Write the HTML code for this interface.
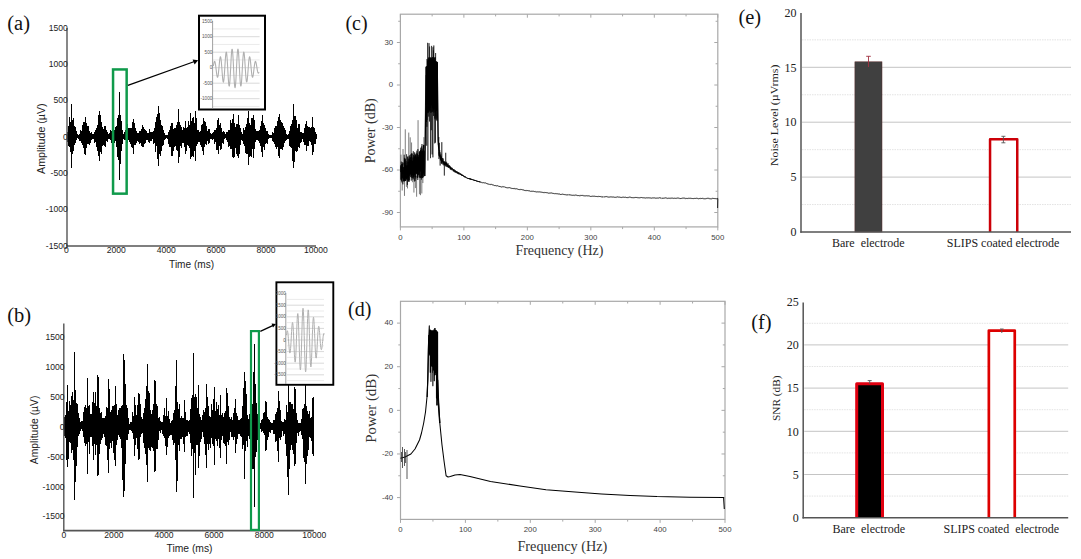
<!DOCTYPE html>
<html><head><meta charset="utf-8"><title>Figure</title>
<style>html,body{margin:0;padding:0;background:#fff;width:1081px;height:559px;overflow:hidden}svg{display:block}</style>
</head><body>
<svg width="1081" height="559" viewBox="0 0 1081 559"><rect width="1081" height="559" fill="#fff"/><path d="M67.5 131.82V141.6M68 126.12V145.73M68.5 126.21V145.73M69 124.9V147.28M69.5 117.33V147.09M70 123.46V152M70.5 121.73V151.45M71 122.42V162.14M71.5 104.08V167.75M72 120.34V153.21M72.5 119.82V153.76M73 118.25V148.52M73.5 121.09V150.5M74 125.57V144.57M74.5 129.03V145.26M75 128.41V141.84M75.5 127.1V143.34M76 130.65V140.03M76.5 132.19V139.43M77 134.32V137.97M77.5 134.73V138.23M78 134.85V137.86M78.5 134.82V138.65M79 134.52V138.99M79.5 133.5V140.68M80 132.91V140.62M80.5 129.89V139.99M81 131.67V141.11M81.5 131.12V143.07M82 129.31V141.87M82.5 125.03V144.94M83 129.09V144.13M83.5 122.29V147.61M84 122.1V144.75M84.5 127.14V154.2M85 116.9V155.31M85.5 127.44V149.02M86 127.07V145.69M86.5 122.99V147.65M87 125.73V143.9M87.5 128.05V143.31M88 126.93V142.3M88.5 126.16V143.95M89 130.63V145.31M89.5 131.83V140.45M90 132.57V143.19M90.5 133.53V141.2M91 131.99V139.55M91.5 133.03V138.06M92 134.56V137.57M92.5 134.1V138.73M93 135.06V138.16M93.5 134.4V138.65M94 131.71V141.27M94.5 132.9V143.09M95 131.33V142.13M95.5 130.07V142.49M96 129.69V144.84M96.5 128.38V146.54M97 125.23V151.35M97.5 124.78V148.71M98 123.59V155.81M98.5 115.3V155.26M99 124.28V159.88M99.5 111.05V160.99M100 119.41V151.52M100.5 115.07V151.09M101 122.45V153.56M101.5 127.14V152.12M102 127.42V145.39M102.5 130V146.4M103 130.2V144.83M103.5 129.15V145.16M104 125.84V143.04M104.5 130.81V146.13M105 130.64V144.55M105.5 125.72V146.76M106 129.78V141.37M106.5 129.75V140.02M107 132.31V142.38M107.5 133.57V139.74M108 133.98V138.47M108.5 134.59V139.11M109 133.61V138.37M109.5 132.84V139.27M110 130.41V139.93M110.5 130.35V140.17M111 131.4V143.3M111.5 131.8V143.01M112 131.48V146.03M112.5 125.4V147.07M113 124.08V148.36M113.5 125.4V143.97M114 130.1V143.08M114.5 130.66V141.15M115 132.85V140.57M115.5 127.2V141.3M116 129.7V143.18M116.5 125.68V147.37M117 125.53V157.09M117.5 118.18V150.76M118 121.45V153.33M118.5 115.12V160.1M119 91.73V179.73M119.5 117.96V169.37M120 115.06V164.45M120.5 117.89V153.12M121 125.86V149.27M121.5 121.42V151.43M122 129.98V143.5M122.5 132.25V140.88M123 134.88V138.6M123.5 134.31V137.91M124 132.36V138.36M124.5 132.36V140.28M125 130.09V140.47M125.5 131.93V139.87M126 130.74V139.98M126.5 128.64V141.3M127 124.19V143.4M127.5 130.98V142.38M128 128.01V139.75M128.5 131.85V140.12M129 128.19V139.81M129.5 131.08V142.22M130 132.18V140.24M130.5 128.17V143.73M131 127.5V144.63M131.5 128.6V147.15M132 123V148.04M132.5 121.91V143.88M133 119.82V152.49M133.5 118.52V153.74M134 127.3V144.74M134.5 123.15V143.94M135 127.76V141.66M135.5 127.76V144.87M136 131.78V141.78M136.5 130.65V143.44M137 133.21V141.12M137.5 133.49V140.25M138 133.17V139.37M138.5 132.93V142.24M139 130.91V140.36M139.5 131.96V143.52M140 131.4V139.93M140.5 130.89V142.5M141 129.85V141.89M141.5 128.89V145.93M142 125.21V147.25M142.5 125.06V147.4M143 126.82V146.98M143.5 127.42V141.64M144 130.1V142.72M144.5 129.16V144.45M145 129.64V143.08M145.5 133.32V140.18M146 131.86V140.43M146.5 130.68V140.47M147 133.24V138.94M147.5 133.83V140.06M148 132.89V141.42M148.5 132.51V142.33M149 132.21V141.08M149.5 129.09V143.49M150 132.35V141.48M150.5 132.05V141.18M151 132.27V141.29M151.5 133.53V138.59M152 132.41V139.34M152.5 133.83V139.47M153 130.9V140.64M153.5 131.6V144.07M154 130.34V143.38M154.5 127.98V142.74M155 130.11V149.32M155.5 122.21V152.37M156 123.55V145.03M156.5 117.48V146.02M157 115.28V159.25M157.5 114.32V152.85M158 116.61V161.27M158.5 106.24V165.66M159 117V151.21M159.5 113.24V154.06M160 120.02V150.58M160.5 126.35V155.51M161 125.79V147.27M161.5 124.59V150.76M162 126.95V146.17M162.5 125.77V143.17M163 130.03V144.76M163.5 131.43V140.85M164 134V139.73M164.5 133.24V138.13M165 135.35V138.55M165.5 134.89V138M166 134.72V137.59M166.5 135.46V138.24M167 135.34V138.84M167.5 134.86V138.89M168 132.26V139.53M168.5 132.59V143.78M169 133.02V143.73M169.5 129.51V146.74M170 127.56V147.16M170.5 126.06V146.25M171 130.74V148.74M171.5 122.54V156.35M172 122.56V156.49M172.5 129.21V149.27M173 128.64V144.41M173.5 130.32V151.03M174 129.66V143.89M174.5 127.59V146.73M175 129.35V146.29M175.5 127.85V146.04M176 125.43V149.76M176.5 125.75V147.09M177 122.26V149.99M177.5 122.25V151.12M178 108.58V163.38M178.5 121.77V148.23M179 121.68V157.47M179.5 125.91V153.86M180 124.52V145.74M180.5 128.83V144.98M181 130.4V147.52M181.5 127.23V142.3M182 129.91V142.85M182.5 129.59V143.2M183 131.75V143.24M183.5 126.55V141.98M184 131.22V143.17M184.5 128.24V146.5M185 120.59V154.31M185.5 121.26V153.6M186 127.91V150.29M186.5 130.07V150.56M187 127.03V145.03M187.5 129.1V143.8M188 121.32V146.44M188.5 122.17V146.24M189 125.43V145.21M189.5 127.41V148.12M190 121.39V150.34M190.5 113.07V159.03M191 124.73V157.45M191.5 121.02V157.16M192 117.82V155.97M192.5 121.5V155.78M193 117.17V157.07M193.5 116.82V150.14M194 124.65V150.84M194.5 122.91V151.34M195 110.65V161.38M195.5 115.16V149.5M196 117.76V146.18M196.5 127.46V146M197 129.66V144.04M197.5 129.8V142.12M198 131.21V142.45M198.5 130.22V139.87M199 132.38V141M199.5 132.9V141.58M200 131.07V144.6M200.5 131.41V142.05M201 125.44V147.39M201.5 124.92V143.23M202 123.57V147.18M202.5 126.77V151.47M203 127.79V146.92M203.5 117.52V154.72M204 127.78V146.67M204.5 121.08V146.69M205 122.3V144.04M205.5 129.5V142.69M206 125.7V144.62M206.5 129.34V143.84M207 130.59V140.71M207.5 132.06V141.49M208 130.44V140.53M208.5 128.56V144M209 129.31V143.28M209.5 131.31V140.32M210 134.17V139.33M210.5 132.94V139.24M211 134.09V137.92M211.5 134.8V138.81M212 134.92V138.32M212.5 133.48V140.22M213 133.59V139.04M213.5 132.46V139.37M214 129.99V140.79M214.5 132.46V144.15M215 131.48V142.26M215.5 129.61V142.48M216 129.4V147.94M216.5 128.44V150.09M217 125.56V149.77M217.5 120.35V143.76M218 119.57V149.1M218.5 118V154.25M219 125.49V146.38M219.5 128.63V143.95M220 122.52V146.2M220.5 127.14V150.17M221 130.61V148.58M221.5 128.39V143.25M222 131.74V143.23M222.5 131.85V141.97M223 131.61V143.68M223.5 130.82V139.51M224 132.04V139.02M224.5 133.72V138.64M225 134.37V138.33M225.5 133.84V138.27M226 132.02V138.96M226.5 133.66V139.86M227 132.91V141.14M227.5 132.42V142.23M228 130.1V142.46M228.5 130.98V147.1M229 129.61V142.53M229.5 129.6V145.66M230 122.41V148.97M230.5 120.09V145.35M231 125.9V146.63M231.5 122.85V149.32M232 119.04V156.02M232.5 122.6V156.84M233 113.71V158.41M233.5 116.43V147.81M234 122.83V156.98M234.5 124.03V146.46M235 127.82V146.77M235.5 127.2V148.05M236 125.85V149.82M236.5 124.45V153.99M237 124.45V151.29M237.5 124.6V156.04M238 114.53V157.61M238.5 115.4V156.77M239 124.62V154.07M239.5 129.3V143.86M240 128.65V144.28M240.5 127.86V145.47M241 132.21V140.37M241.5 133.62V139.28M242 133.94V138.72M242.5 133.86V140.96M243 131.66V141.88M243.5 128.24V144.28M244 131.39V143.36M244.5 130.33V146.31M245 128.84V153.03M245.5 126.88V146.43M246 124.56V146.02M246.5 123.86V153.64M247 118.15V152.08M247.5 121.66V153.91M248 111.34V165.1M248.5 121.86V156.16M249 124.8V148.4M249.5 123.08V157.42M250 124.53V155.91M250.5 125.3V148.08M251 123.71V156.52M251.5 117.71V147.93M252 124.64V149.39M252.5 118.2V149.22M253 119.41V154.55M253.5 115.4V157.59M254 119.99V144.7M254.5 122.34V149.2M255 129.25V141.5M255.5 132.42V142.38M256 131.68V140.34M256.5 131.25V139.21M257 132.03V140.42M257.5 130.8V140.04M258 131.4V141.3M258.5 130.71V141.13M259 131.26V140.86M259.5 130.39V143.41M260 127.76V146.27M260.5 126.4V146.08M261 121.04V152.01M261.5 126.33V149.44M262 124.13V149.16M262.5 115.08V157.08M263 122.57V146.71M263.5 124.17V145.43M264 127.04V146.14M264.5 125.26V150.39M265 127.8V142.73M265.5 128.88V144.05M266 131.34V143.03M266.5 131.54V140.68M267 131.18V143.88M267.5 133.33V141.1M268 133.66V139.21M268.5 134.58V138.21M269 135.45V137.79M269.5 134.76V137.91M270 134.98V138.24M270.5 134.98V137.22M271 135.48V137.48M271.5 134.87V138.12M272 133.55V138.01M272.5 131.9V140.83M273 133.36V142.2M273.5 133.36V140.54M274 132.39V144.43M274.5 127.98V142.55M275 128.46V143.28M275.5 126.1V147.37M276 128.37V145.65M276.5 125.76V148.94M277 124.92V146.9M277.5 120.75V144.57M278 116.77V155.59M278.5 123.96V147.71M279 113.84V158.28M279.5 113.94V158.18M280 126.08V148.4M280.5 119.81V149.27M281 122.83V149.17M281.5 121.61V145.06M282 126.42V146.61M282.5 123.27V149.5M283 126.43V146.3M283.5 128.85V147.09M284 129.75V143.47M284.5 127.54V143.18M285 129.55V140.95M285.5 132.65V141.21M286 133.6V139.67M286.5 134.34V139.15M287 135.14V138.97M287.5 135.11V138.75M288 135V138.02M288.5 134.34V138.61M289 132.53V139.99M289.5 131.37V146.48M290 125.8V142.48M290.5 128.18V147.27M291 124.78V148.1M291.5 123.9V147.1M292 125.34V160.34M292.5 120.07V161.1M293 107.27V164.65M293.5 104.24V167.59M294 116.05V162.16M294.5 124.42V158.11M295 115.74V150.56M295.5 125.67V150.17M296 119.68V148.7M296.5 127.38V152.49M297 129.09V150.67M297.5 128.14V144.19M298 124.35V144.07M298.5 130.54V147.24M299 123.97V148.46M299.5 125.3V147.16M300 131.99V143.02M300.5 132.49V141.11M301 132.25V141.62M301.5 133.43V139.6M302 133.1V138.77M302.5 133.87V138.7M303 133.75V141.11M303.5 132.78V142.3M304 128.04V142.49M304.5 131.96V144.83M305 130.79V142.36M305.5 124.33V144.62M306 122.43V149.95M306.5 121.08V151.26M307 125.78V145.22M307.5 128.75V145.86M308 127.05V145.86M308.5 131.72V142.2M309 129.35V140.54M309.5 127.44V141.09M310 128.45V141.58M310.5 128.66V141.86M311 130.09V142.55M311.5 127.47V144.77M312 128.62V146.43M312.5 117.32V154.91M313 126.68V152.43M313.5 129.48V144M314 129.64V143.74M314.5 128.35V143.18M315 132.23V143.81M315.5 133.85V139.62M316 134.08V138.57" fill="none" stroke="#000" stroke-width="1" shape-rendering="crispEdges"/><line x1="67" y1="28" x2="67" y2="246.6" stroke="#555" stroke-width="1.4"/><line x1="66.3" y1="246" x2="316" y2="246" stroke="#555" stroke-width="1.6"/><text x="67.8" y="30.55" font-size="8.6" font-family='"Liberation Sans", sans-serif' text-anchor="end" fill="#222">1500</text><text x="67.8" y="66.9" font-size="8.6" font-family='"Liberation Sans", sans-serif' text-anchor="end" fill="#222">1000</text><text x="67.8" y="103.25" font-size="8.6" font-family='"Liberation Sans", sans-serif' text-anchor="end" fill="#222">500</text><text x="67.8" y="139.6" font-size="8.6" font-family='"Liberation Sans", sans-serif' text-anchor="end" fill="#222">0</text><text x="67.8" y="175.95" font-size="8.6" font-family='"Liberation Sans", sans-serif' text-anchor="end" fill="#222">-500</text><text x="67.8" y="212.3" font-size="8.6" font-family='"Liberation Sans", sans-serif' text-anchor="end" fill="#222">-1000</text><text x="67.8" y="248.65" font-size="8.6" font-family='"Liberation Sans", sans-serif' text-anchor="end" fill="#222">-1500</text><text x="66.4" y="253.1" font-size="8.6" font-family='"Liberation Sans", sans-serif' text-anchor="middle" fill="#222">0</text><text x="116.3" y="253.1" font-size="8.6" font-family='"Liberation Sans", sans-serif' text-anchor="middle" fill="#222">2000</text><text x="166.2" y="253.1" font-size="8.6" font-family='"Liberation Sans", sans-serif' text-anchor="middle" fill="#222">4000</text><text x="216.1" y="253.1" font-size="8.6" font-family='"Liberation Sans", sans-serif' text-anchor="middle" fill="#222">6000</text><text x="266" y="253.1" font-size="8.6" font-family='"Liberation Sans", sans-serif' text-anchor="middle" fill="#222">8000</text><text x="315.9" y="253.1" font-size="8.6" font-family='"Liberation Sans", sans-serif' text-anchor="middle" fill="#222">10000</text><text x="191.6" y="268" font-size="11" font-family='"Liberation Sans", sans-serif' text-anchor="middle" fill="#222" textLength="45" lengthAdjust="spacingAndGlyphs">Time (ms)</text><text x="45" y="138.7" font-size="11" font-family='"Liberation Sans", sans-serif' text-anchor="middle" fill="#222" transform="rotate(-90 45 138.7)" textLength="70.5" lengthAdjust="spacingAndGlyphs">Amplitude (µV)</text><rect x="113.05" y="69.45" width="13.6" height="124.2" fill="none" stroke="#0f9a4b" stroke-width="2.5"/><line x1="127.9" y1="85.3" x2="194.5" y2="61.5" stroke="#000" stroke-width="1.3"/><path d="M198.2 60.2 L192.6 59.4 L194.6 64.6 Z" fill="#000"/><rect x="199" y="15.7" width="66" height="93.8" fill="#fff" stroke="#000" stroke-width="2"/><line x1="213" y1="106.45" x2="259.6" y2="106.45" stroke="#e6e6e6" stroke-width="0.8"/><line x1="213" y1="98.7" x2="259.6" y2="98.7" stroke="#cfcfcf" stroke-width="0.8"/><line x1="213" y1="90.95" x2="259.6" y2="90.95" stroke="#e6e6e6" stroke-width="0.8"/><line x1="213" y1="83.2" x2="259.6" y2="83.2" stroke="#cfcfcf" stroke-width="0.8"/><line x1="213" y1="75.45" x2="259.6" y2="75.45" stroke="#e6e6e6" stroke-width="0.8"/><line x1="213" y1="67.7" x2="259.6" y2="67.7" stroke="#cfcfcf" stroke-width="0.8"/><line x1="213" y1="59.95" x2="259.6" y2="59.95" stroke="#e6e6e6" stroke-width="0.8"/><line x1="213" y1="52.2" x2="259.6" y2="52.2" stroke="#cfcfcf" stroke-width="0.8"/><line x1="213" y1="44.45" x2="259.6" y2="44.45" stroke="#e6e6e6" stroke-width="0.8"/><line x1="213" y1="36.7" x2="259.6" y2="36.7" stroke="#cfcfcf" stroke-width="0.8"/><line x1="213" y1="28.95" x2="259.6" y2="28.95" stroke="#e6e6e6" stroke-width="0.8"/><line x1="212.6" y1="21" x2="212.6" y2="109" stroke="#888" stroke-width="0.8"/><text x="212.4" y="22.7" font-size="4.7" font-family='"Liberation Sans", sans-serif' text-anchor="end" fill="#555">1500</text><text x="212.4" y="38.2" font-size="4.7" font-family='"Liberation Sans", sans-serif' text-anchor="end" fill="#555">1000</text><text x="212.4" y="53.9" font-size="4.7" font-family='"Liberation Sans", sans-serif' text-anchor="end" fill="#555">500</text><text x="212.4" y="69.4" font-size="4.7" font-family='"Liberation Sans", sans-serif' text-anchor="end" fill="#555">0</text><text x="212.4" y="84.9" font-size="4.7" font-family='"Liberation Sans", sans-serif' text-anchor="end" fill="#555">-500</text><text x="212.4" y="100.4" font-size="4.7" font-family='"Liberation Sans", sans-serif' text-anchor="end" fill="#555">-1000</text><path d="M213.4 66 L213.6 64.78 L213.8 63.66 L214 62.71 L214.2 61.97 L214.4 61.51 L214.6 61.34 L214.8 61.48 L215 61.96 L215.2 62.74 L215.4 63.82 L215.6 65.15 L215.8 66.67 L216 68.33 L216.2 70.04 L216.4 71.73 L216.6 73.32 L216.8 74.73 L217 75.88 L217.2 76.72 L217.4 77.18 L217.6 77.23 L217.8 76.86 L218 76.07 L218.2 74.88 L218.4 73.34 L218.6 71.5 L218.8 69.44 L219 67.26 L219.2 65.06 L219.4 62.93 L219.6 60.98 L219.8 59.3 L220 58 L220.2 57.13 L220.4 56.76 L220.6 56.91 L220.8 57.6 L221 58.8 L221.2 60.47 L221.4 62.56 L221.6 64.97 L221.8 67.59 L222 70.31 L222.2 73.01 L222.4 75.55 L222.6 77.81 L222.8 79.68 L223 81.06 L223.2 81.87 L223.4 82.06 L223.6 81.61 L223.8 80.53 L224 78.84 L224.2 76.62 L224.4 73.96 L224.6 70.98 L224.8 67.8 L225 64.57 L225.2 61.45 L225.4 58.58 L225.6 56.1 L225.8 54.14 L226 52.8 L226.2 52.15 L226.4 52.23 L226.6 53.06 L226.8 54.6 L227 56.8 L227.2 59.57 L227.4 62.78 L227.6 66.29 L227.8 69.94 L228 73.57 L228.2 76.99 L228.4 80.06 L228.6 82.62 L228.8 84.54 L229 85.73 L229.2 86.12 L229.4 85.68 L229.6 84.44 L229.8 82.42 L230 79.73 L230.2 76.48 L230.4 72.81 L230.6 68.9 L230.8 64.92 L231 61.05 L231.2 57.49 L231.4 54.39 L231.6 51.91 L231.8 50.17 L232 49.24 L232.2 49.19 L232.4 50.01 L232.6 51.68 L232.8 54.11 L233 57.21 L233.2 60.82 L233.4 64.79 L233.6 68.93 L233.8 73.04 L234 76.95 L234.2 80.45 L234.4 83.4 L234.6 85.66 L234.8 87.11 L235 87.69 L235.2 87.38 L235.4 86.18 L235.6 84.16 L235.8 81.4 L236 78.05 L236.2 74.24 L236.4 70.17 L236.6 66.02 L236.8 61.99 L237 58.25 L237.2 54.98 L237.4 52.34 L237.6 50.44 L237.8 49.36 L238 49.15 L238.2 49.82 L238.4 51.32 L238.6 53.59 L238.8 56.52 L239 59.95 L239.2 63.74 L239.4 67.7 L239.6 71.65 L239.8 75.4 L240 78.79 L240.2 81.66 L240.4 83.88 L240.6 85.36 L240.8 86.04 L241 85.9 L241.2 84.94 L241.4 83.24 L241.6 80.86 L241.8 77.94 L242 74.61 L242.2 71.03 L242.4 67.38 L242.6 63.82 L242.8 60.51 L243 57.6 L243.2 55.23 L243.4 53.48 L243.6 52.44 L243.8 52.14 L244 52.57 L244.2 53.71 L244.4 55.49 L244.6 57.82 L244.8 60.58 L245 63.63 L245.2 66.83 L245.4 70.03 L245.6 73.08 L245.8 75.84 L246 78.2 L246.2 80.04 L246.4 81.31 L246.6 81.95 L246.8 81.95 L247 81.32 L247.2 80.11 L247.4 78.38 L247.6 76.23 L247.8 73.77 L248 71.12 L248.2 68.4 L248.4 65.75 L248.6 63.27 L248.8 61.09 L249 59.29 L249.2 57.95 L249.4 57.11 L249.6 56.8 L249.8 57.02 L250 57.74 L250.2 58.91 L250.4 60.48 L250.6 62.35 L250.8 64.42 L251 66.61 L251.2 68.8 L251.4 70.89 L251.6 72.79 L251.8 74.42 L252 75.71 L252.2 76.62 L252.4 77.12 L252.6 77.19 L252.8 76.85 L253 76.13 L253.2 75.07 L253.4 73.74 L253.6 72.2 L253.8 70.54 L254 68.84 L254.2 67.16 L254.4 65.6 L254.6 64.22 L254.8 63.07 L255 62.2 L255.2 61.63 L255.4 61.39 L255.6 61.46 L255.8 61.84 L256 62.5 L256.2 63.38 L256.4 64.45 L256.6 65.64 L256.8 66.9 L257 68.17 L257.2 69.38 L257.4 70.49 L257.6 71.44 L257.8 72.2 L258 72.75 L258.2 73.07 L258.4 73.15 L258.6 73 L258.8 72.64 L259 72.09" fill="none" stroke="#b0b0b0" stroke-width="1.1" stroke-linejoin="round"/><path d="M64.3 420.32V436.35M64.8 416.77V435.14M65.3 415.18V435.6M65.8 415.91V437.52M66.3 402.34V439.31M66.8 405.55V459.61M67.3 385.63V466.54M67.8 384.81V467.34M68.3 411.08V458.53M68.8 412.48V440.84M69.3 401V440.41M69.8 406.52V441.92M70.3 413.17V440.23M70.8 404.61V443.25M71.3 405.61V444.95M71.8 396.39V453.3M72.3 401.57V450.45M72.8 391.6V448.86M73.3 403.26V454.23M73.8 400.25V459.73M74.3 354.52V496.71M74.8 351.64V499.51M75.3 389.88V481.89M75.8 389.89V459.06M76.3 402.65V465.62M76.8 405.63V453.02M77.3 404.61V447.27M77.8 404.18V439.18M78.3 412.67V435.63M78.8 419.57V433.74M79.3 417.79V431.72M79.8 422.48V434.27M80.3 423.82V429.9M80.8 422.46V431.21M81.3 424.79V428.53M81.8 420.76V429.27M82.3 423.79V429.61M82.8 421.08V430.9M83.3 421.09V432.08M83.8 411.68V437.09M84.3 415.16V439.14M84.8 406.97V443.35M85.3 405.22V439.99M85.8 413.57V446.3M86.3 411.81V442.08M86.8 407.64V443.86M87.3 378.29V473.65M87.8 381.58V470.46M88.3 408.86V442.46M88.8 405.63V441.3M89.3 412.91V440.67M89.8 404.65V453.82M90.3 413.79V436.97M90.8 416.34V436.57M91.3 417.01V436.21M91.8 413.64V436.71M92.3 416.34V440.41M92.8 402.12V446.2M93.3 393.56V458.85M93.8 392.43V459.94M94.3 402.89V444.24M94.8 411.52V441.01M95.3 391.98V455.42M95.8 397.97V452.46M96.3 406.41V444.15M96.8 410.02V444.54M97.3 396.8V470.01M97.8 375.46V476.4M98.3 376.66V475.24M98.8 385.64V446.56M99.3 411.34V441.87M99.8 407.97V454.04M100.3 412.69V443.86M100.8 417.32V441.22M101.3 412.41V440.37M101.8 420.51V437.89M102.3 417.54V438.4M102.8 421.74V436.54M103.3 422.42V430.94M103.8 418.29V434.01M104.3 418.29V437.18M104.8 420.5V434.2M105.3 420.28V442.08M105.8 415.81V445.41M106.3 406.59V445.55M106.8 414.83V438.84M107.3 408.06V440.63M107.8 411.22V460.31M108.3 405.27V451.28M108.8 378.55V473.4M109.3 389.04V448.52M109.8 406.42V442.1M110.3 412.37V440.68M110.8 413.24V443.15M111.3 409.85V440.28M111.8 410.77V448.13M112.3 411.4V438.43M112.8 406.27V441.34M113.3 405.66V452.8M113.8 408.61V442.68M114.3 405.09V443M114.8 408.45V460.12M115.3 386.25V465.94M115.8 389.02V463.25M116.3 412.59V444.98M116.8 403.57V438.49M117.3 415.22V436.2M117.8 418.5V439.55M118.3 410.03V434.56M118.8 415.22V434.19M119.3 408.32V434.71M119.8 416.89V437.38M120.3 407.86V436.46M120.8 412.64V438.67M121.3 412.86V448M121.8 406.26V444.83M122.3 406.86V453.32M122.8 404.96V479.8M123.3 365.3V452.45M123.8 353.82V497.4M124.3 360.23V491.18M124.8 401.85V450.29M125.3 383.66V464.42M125.8 410.25V462.74M126.3 404.65V440.22M126.8 409.91V439.13M127.3 408.27V438.81M127.8 420.16V439.94M128.3 418.01V431.89M128.8 422.46V433.71M129.3 424.42V429.68M129.8 424.75V428.67M130.3 424.55V428.97M130.8 421.62V429.78M131.3 422.91V430.84M131.8 422.32V430.85M132.3 419.14V432.42M132.8 412.21V433.11M133.3 417.31V436.7M133.8 415.89V438.76M134.3 399.32V453.26M134.8 396.58V455.92M135.3 404.95V444.98M135.8 413.85V438.98M136.3 416.11V437.2M136.8 414.97V438.01M137.3 404.86V449.47M137.8 413.89V439.25M138.3 411.35V439.38M138.8 392.81V459.57M139.3 393.58V458.83M139.8 398.51V442.56M140.3 404.28V436.97M140.8 418.69V435.9M141.3 417.48V434.05M141.8 420.03V433.67M142.3 419.42V432.75M142.8 419.71V433.1M143.3 416.83V438.96M143.8 412.54V443.19M144.3 416.13V448.22M144.8 407.9V442.08M145.3 400.82V452.14M145.8 399.34V454.4M146.3 402.65V448.01M146.8 385.9V464.84M147.3 365.66V480.3M147.8 363.54V482.2M148.3 390.8V447.63M148.8 407.38V446.26M149.3 393.12V447.92M149.8 403.48V449.58M150.3 412.58V451.18M150.8 409.58V443.33M151.3 414.09V447.24M151.8 414.64V438.96M152.3 413.81V447.66M152.8 409.94V441.55M153.3 404.82V450.97M153.8 403.86V441.73M154.3 409.38V455.15M154.8 379.97V472.03M155.3 380.66V471.36M155.8 410.89V443.49M156.3 403.76V449.15M156.8 411.11V441.47M157.3 416.36V448.68M157.8 406.38V445.84M158.3 418.39V439.73M158.8 419.29V433.17M159.3 416.68V431.19M159.8 423.04V431.46M160.3 423.46V432.88M160.8 421.38V430.82M161.3 421.87V429.53M161.8 424.35V429.69M162.3 423.19V429.98M162.8 422.46V434.41M163.3 418.92V435.51M163.8 414.52V435.73M164.3 419.2V434.64M164.8 407.56V437.6M165.3 416.18V436.09M165.8 416.83V446.04M166.3 398.46V454.09M166.8 397.96V454.57M167.3 416.4V439.3M167.8 417.07V446.5M168.3 411.8V438.38M168.8 411.16V435.88M169.3 421.03V436.39M169.8 418.62V433.69M170.3 423.01V434.99M170.8 422.76V430.23M171.3 420.85V434.89M171.8 420.63V430.96M172.3 420.73V431.95M172.8 420.2V440.42M173.3 417.99V444.99M173.8 413.27V437.85M174.3 413.65V441.18M174.8 410.18V443.38M175.3 385.88V460.33M175.8 400.2V456.3M176.3 361.6V489.84M176.8 359.79V491.6M177.3 402.21V481.35M177.8 401.52V455.89M178.3 409.15V444.72M178.8 410.86V443.21M179.3 403.63V450.58M179.8 418.19V440.8M180.3 417.54V437.1M180.8 420.49V438.77M181.3 416.33V438.96M181.8 422.36V431.08M182.3 419.31V437.33M182.8 418.41V436.4M183.3 418.01V433.1M183.8 418.41V444.36M184.3 416.65V436.06M184.8 400.39V452.22M185.3 411.58V436.02M185.8 416.92V437.16M186.3 420.1V435.84M186.8 421.39V432.74M187.3 419.78V436.31M187.8 423.13V430.29M188.3 420.83V430.58M188.8 422.56V431.81M189.3 422.09V433.53M189.8 420.37V432.77M190.3 417.79V438.71M190.8 408.72V443.3M191.3 413.95V456.22M191.8 397.79V442.33M192.3 394.8V446.08M192.8 398.85V449.07M193.3 397.3V465.55M193.8 353.09V498.1M194.3 397.02V453.22M194.8 402.98V450.13M195.3 402.99V470.84M195.8 393.82V474.57M196.3 406.93V445.08M196.8 397V443.74M197.3 407.85V445.48M197.8 410.06V443M198.3 384.6V467.54M198.8 388.81V463.45M199.3 414.08V456.38M199.8 416.07V444.98M200.3 416.89V434.88M200.8 419.04V441.65M201.3 420.27V438.93M201.8 420.71V436.41M202.3 421.19V432.21M202.8 414.98V432.26M203.3 412.86V433.82M203.8 409.91V437.2M204.3 412.41V436.05M204.8 416.62V444.49M205.3 408.38V454.8M205.8 412.75V443.39M206.3 386.93V465.27M206.8 383.94V468.17M207.3 411.18V444.33M207.8 397.23V440.11M208.3 406.21V449.74M208.8 411.11V438.53M209.3 415.91V444.18M209.8 417.66V442.14M210.3 418.11V435.27M210.8 417.08V447.91M211.3 404.18V436.43M211.8 417.59V438.32M212.3 414.23V437.42M212.8 410.38V444.19M213.3 401.41V446.39M213.8 399.28V441.57M214.3 386.86V465.35M214.8 402.63V441.1M215.3 413.9V439.08M215.8 410.88V439.13M216.3 402.25V439.5M216.8 409.53V440.61M217.3 417.51V438.13M217.8 409.09V446.27M218.3 417.61V435.2M218.8 405.22V439.31M219.3 415.12V447.64M219.8 415.23V446.42M220.3 394.94V457.51M220.8 410.72V443.16M221.3 415.29V436.87M221.8 416.93V440M222.3 417.33V435.77M222.8 412.97V435.56M223.3 417.72V442.92M223.8 417.45V435.99M224.3 413.43V441.48M224.8 415.98V443.81M225.3 413.81V439.78M225.8 411.38V446.12M226.3 388.08V464.16M226.8 388.92V463.35M227.3 392.83V442.12M227.8 407.27V438.5M228.3 405.65V438.25M228.8 416.37V445.31M229.3 419.36V433.9M229.8 417.39V440.19M230.3 419.33V432.37M230.8 421.92V431.75M231.3 416.79V431.14M231.8 418.49V437.05M232.3 422.31V436.7M232.8 419.91V432.09M233.3 419.65V440.01M233.8 413.2V433.77M234.3 418.12V436.35M234.8 407.97V436.51M235.3 400.47V452.15M235.8 399.42V453.16M236.3 415.66V436.39M236.8 412.98V444.18M237.3 417.4V438.66M237.8 415.5V432.4M238.3 419.6V434.49M238.8 421.28V433.14M239.3 419.68V432.2M239.8 421.98V433.66M240.3 421.2V436.08M240.8 418.99V433.12M241.3 419.49V433.94M241.8 418.09V437.08M242.3 416.32V442.33M242.8 406.18V448.51M243.3 412.32V445.22M243.8 388.28V443.4M244.3 378.9V459.57M244.8 372.37V479.4M245.3 381.05V450.57M245.8 389.23V443.95M246.3 393.76V441.29M246.8 405.19V439.09M247.3 415.33V447.15M247.8 415.94V445.32M248.3 419.44V435.54M248.8 420.72V432.83M249.3 413.94V435.62M249.8 420.09V438.6M250.3 417.6V437.03M250.8 408.87V438.39M251.3 403.82V437.61M251.8 405.99V442.79M252.3 408.69V468.54M252.8 403.68V463.15M253.3 401.94V468.72M253.8 372.37V456.4M254.3 343.96V506.96M254.8 345.67V505.3M255.3 383.54V456.9M255.8 403.62V450.13M256.3 403.09V452.31M256.8 410.15V443.76M257.3 413.69V439.71M257.8 416.67V437.92M258.3 416.27V437.2M258.8 418.9V433.28M259.3 418.68V430.39M259.8 424.33V430.26M260.3 422.56V429.34M260.8 424.88V429.47M261.3 423.93V430.46M261.8 420.07V431.67M262.3 419.38V430.07M262.8 421.72V431.15M263.3 418.21V431.36M263.8 413.3V432.62M264.3 417.27V435.09M264.8 411.83V434.65M265.3 417.42V435.28M265.8 401.47V451.17M266.3 402.23V450.44M266.8 418.05V443.99M267.3 417.23V439.94M267.8 419.95V433.22M268.3 421.26V432.73M268.8 418.57V436.7M269.3 422.2V432.47M269.8 420.47V431.14M270.3 422.66V433.03M270.8 422.23V428.83M271.3 424.88V429.72M271.8 423.19V428.92M272.3 424.48V428.81M272.8 423.23V430.46M273.3 420.2V430.03M273.8 421.03V433.78M274.3 419.97V432.22M274.8 421.74V433.78M275.3 414.32V432.41M275.8 419.94V441.84M276.3 418.43V434.86M276.8 411.68V440.62M277.3 407.5V437.89M277.8 412.43V450.97M278.3 390.72V461.6M278.8 413.85V453.21M279.3 400.59V438.1M279.8 417.24V436.09M280.3 410.42V439.51M280.8 415.79V434.53M281.3 421.02V436.69M281.8 421.53V432.31M282.3 422.71V430.81M282.8 422.36V431.17M283.3 421.74V435.62M283.8 422.95V432.29M284.3 419.36V432.93M284.8 420.01V434.09M285.3 420.5V444.07M285.8 419.71V437.65M286.3 405.2V440.08M286.8 413.61V456.13M287.3 411.63V447.17M287.8 411.72V476.88M288.3 410.36V466.91M288.8 381.61V494.94M289.3 401.89V452.58M289.8 402.38V469.11M290.3 411.89V450.16M290.8 401.53V444.43M291.3 415.35V443.47M291.8 403.96V445.27M292.3 404.42V440.99M292.8 412.19V450.17M293.3 408.65V441.89M293.8 413.91V454.18M294.3 402.01V441.99M294.8 386.99V466.11M295.3 388.65V463.91M295.8 414.04V442.18M296.3 415.61V437.59M296.8 413.18V443.12M297.3 420.21V433.42M297.8 420.14V431.78M298.3 422.91V435.61M298.8 423.73V433.72M299.3 424.47V431.67M299.8 422.67V429.83M300.3 423.18V429.53M300.8 423.07V430.59M301.3 418.84V435.34M301.8 418.57V435.23M302.3 417.4V436.47M302.8 408.6V439.49M303.3 409.74V441.72M303.8 407.93V457.56M304.3 404.86V462.12M304.8 403.61V451.3M305.3 384.11V481.56M305.8 382.47V483.53M306.3 408.66V463.73M306.8 406.27V445.65M307.3 412.45V449.31M307.8 410.93V456.14M308.3 413.61V446.74M308.8 416.97V450.01M309.3 417.62V435.16M309.8 410.83V437.29M310.3 417.81V436.35M310.8 417.52V438.16M311.3 416.6V436.09M311.8 417.76V440.74M312.3 409.89V436.24M312.8 398.19V454.35M313.3 396.76V455.74M313.8 415.95V438.45" fill="none" stroke="#000" stroke-width="1" shape-rendering="crispEdges"/><line x1="63.8" y1="323.6" x2="63.8" y2="531.3" stroke="#555" stroke-width="1.4"/><line x1="63.1" y1="530.6" x2="313.8" y2="530.6" stroke="#555" stroke-width="1.6"/><text x="64.5" y="340.25" font-size="8.6" font-family='"Liberation Sans", sans-serif' text-anchor="end" fill="#222">1500</text><text x="64.5" y="370.1" font-size="8.6" font-family='"Liberation Sans", sans-serif' text-anchor="end" fill="#222">1000</text><text x="64.5" y="399.95" font-size="8.6" font-family='"Liberation Sans", sans-serif' text-anchor="end" fill="#222">500</text><text x="64.5" y="429.8" font-size="8.6" font-family='"Liberation Sans", sans-serif' text-anchor="end" fill="#222">0</text><text x="64.5" y="459.65" font-size="8.6" font-family='"Liberation Sans", sans-serif' text-anchor="end" fill="#222">-500</text><text x="64.5" y="489.5" font-size="8.6" font-family='"Liberation Sans", sans-serif' text-anchor="end" fill="#222">-1000</text><text x="64.5" y="519.35" font-size="8.6" font-family='"Liberation Sans", sans-serif' text-anchor="end" fill="#222">-1500</text><text x="63.8" y="537.5" font-size="8.6" font-family='"Liberation Sans", sans-serif' text-anchor="middle" fill="#222">0</text><text x="113.9" y="537.5" font-size="8.6" font-family='"Liberation Sans", sans-serif' text-anchor="middle" fill="#222">2000</text><text x="164" y="537.5" font-size="8.6" font-family='"Liberation Sans", sans-serif' text-anchor="middle" fill="#222">4000</text><text x="214.1" y="537.5" font-size="8.6" font-family='"Liberation Sans", sans-serif' text-anchor="middle" fill="#222">6000</text><text x="264.2" y="537.5" font-size="8.6" font-family='"Liberation Sans", sans-serif' text-anchor="middle" fill="#222">8000</text><text x="314.3" y="537.5" font-size="8.6" font-family='"Liberation Sans", sans-serif' text-anchor="middle" fill="#222">10000</text><text x="189.5" y="552.1" font-size="11" font-family='"Liberation Sans", sans-serif' text-anchor="middle" fill="#222" textLength="46" lengthAdjust="spacingAndGlyphs">Time (ms)</text><text x="38.5" y="429.9" font-size="11" font-family='"Liberation Sans", sans-serif' text-anchor="middle" fill="#222" transform="rotate(-90 38.5 429.9)" textLength="68.5" lengthAdjust="spacingAndGlyphs">Amplitude (µV)</text><rect x="251" y="331.1" width="7.9" height="198.8" fill="none" stroke="#0f9a4b" stroke-width="2.2"/><line x1="260.3" y1="331.3" x2="273.2" y2="325.4" stroke="#000" stroke-width="1.3"/><path d="M276 324 L271.6 323.6 L273 327.4 Z" fill="#000"/><rect x="276.4" y="282.3" width="56.9" height="102.5" fill="#fff" stroke="#000" stroke-width="1.9"/><line x1="287" y1="380.6" x2="324" y2="380.6" stroke="#e6e6e6" stroke-width="0.8"/><line x1="287" y1="374.8" x2="324" y2="374.8" stroke="#cfcfcf" stroke-width="0.8"/><line x1="287" y1="369" x2="324" y2="369" stroke="#e6e6e6" stroke-width="0.8"/><line x1="287" y1="363.2" x2="324" y2="363.2" stroke="#cfcfcf" stroke-width="0.8"/><line x1="287" y1="357.4" x2="324" y2="357.4" stroke="#e6e6e6" stroke-width="0.8"/><line x1="287" y1="351.6" x2="324" y2="351.6" stroke="#cfcfcf" stroke-width="0.8"/><line x1="287" y1="345.8" x2="324" y2="345.8" stroke="#e6e6e6" stroke-width="0.8"/><line x1="287" y1="340" x2="324" y2="340" stroke="#cfcfcf" stroke-width="0.8"/><line x1="287" y1="334.2" x2="324" y2="334.2" stroke="#e6e6e6" stroke-width="0.8"/><line x1="287" y1="328.4" x2="324" y2="328.4" stroke="#cfcfcf" stroke-width="0.8"/><line x1="287" y1="322.6" x2="324" y2="322.6" stroke="#e6e6e6" stroke-width="0.8"/><line x1="287" y1="316.8" x2="324" y2="316.8" stroke="#cfcfcf" stroke-width="0.8"/><line x1="287" y1="311" x2="324" y2="311" stroke="#e6e6e6" stroke-width="0.8"/><line x1="287" y1="305.2" x2="324" y2="305.2" stroke="#cfcfcf" stroke-width="0.8"/><line x1="287" y1="299.4" x2="324" y2="299.4" stroke="#e6e6e6" stroke-width="0.8"/><line x1="285.8" y1="293" x2="285.8" y2="384" stroke="#888" stroke-width="0.8"/><text x="285.7" y="295.2" font-size="4.5" font-family='"Liberation Sans", sans-serif' text-anchor="end" fill="#555">2000</text><text x="285.7" y="306.8" font-size="4.5" font-family='"Liberation Sans", sans-serif' text-anchor="end" fill="#555">1500</text><text x="285.7" y="318.4" font-size="4.5" font-family='"Liberation Sans", sans-serif' text-anchor="end" fill="#555">1000</text><text x="285.7" y="330" font-size="4.5" font-family='"Liberation Sans", sans-serif' text-anchor="end" fill="#555">500</text><text x="285.7" y="341.6" font-size="4.5" font-family='"Liberation Sans", sans-serif' text-anchor="end" fill="#555">0</text><text x="285.7" y="353.2" font-size="4.5" font-family='"Liberation Sans", sans-serif' text-anchor="end" fill="#555">-500</text><text x="285.7" y="364.8" font-size="4.5" font-family='"Liberation Sans", sans-serif' text-anchor="end" fill="#555">-1000</text><text x="285.7" y="376.4" font-size="4.5" font-family='"Liberation Sans", sans-serif' text-anchor="end" fill="#555">-1500</text><path d="M286.4 335.19 L286.6 333.57 L286.8 332.24 L287 331.28 L287.2 330.79 L287.4 330.82 L287.6 331.39 L287.8 332.51 L288 334.14 L288.2 336.2 L288.4 338.61 L288.6 341.23 L288.8 343.92 L289 346.52 L289.2 348.88 L289.4 350.83 L289.6 352.25 L289.8 353.01 L290 353.05 L290.2 352.32 L290.4 350.83 L290.6 348.63 L290.8 345.82 L291 342.53 L291.2 338.95 L291.4 335.27 L291.6 331.69 L291.8 328.45 L292 325.75 L292.2 323.76 L292.4 322.65 L292.6 322.5 L292.8 323.37 L293 325.24 L293.2 328.05 L293.4 331.66 L293.6 335.9 L293.8 340.53 L294 345.3 L294.2 349.93 L294.4 354.15 L294.6 357.68 L294.8 360.31 L295 361.84 L295.2 362.15 L295.4 361.19 L295.6 358.97 L295.8 355.58 L296 351.19 L296.2 346.02 L296.4 340.36 L296.6 334.53 L296.8 328.86 L297 323.68 L297.2 319.32 L297.4 316.04 L297.6 314.07 L297.8 313.55 L298 314.54 L298.2 317.02 L298.4 320.88 L298.6 325.92 L298.8 331.87 L299 338.4 L299.2 345.15 L299.4 351.72 L299.6 357.72 L299.8 362.81 L300 366.67 L300.2 369.06 L300.4 369.81 L300.6 368.87 L300.8 366.25 L301 362.1 L301.2 356.64 L301.4 350.16 L301.6 343.03 L301.8 335.67 L302 328.48 L302.2 321.89 L302.4 316.28 L302.6 311.99 L302.8 309.28 L303 308.3 L303.2 309.12 L303.4 311.71 L303.6 315.93 L303.8 321.52 L304 328.19 L304.2 335.53 L304.4 343.14 L304.6 350.57 L304.8 357.4 L305 363.23 L305.2 367.74 L305.4 370.65 L305.6 371.81 L305.8 371.16 L306 368.75 L306.2 364.71 L306.4 359.3 L306.6 352.82 L306.8 345.66 L307 338.24 L307.2 330.97 L307.4 324.29 L307.6 318.55 L307.8 314.1 L308 311.15 L308.2 309.88 L308.4 310.32 L308.6 312.44 L308.8 316.09 L309 321.04 L309.2 326.99 L309.4 333.58 L309.6 340.43 L309.8 347.14 L310 353.32 L310.2 358.65 L310.4 362.82 L310.6 365.62 L310.8 366.91 L311 366.67 L311.2 364.92 L311.4 361.81 L311.6 357.53 L311.8 352.37 L312 346.64 L312.2 340.67 L312.4 334.82 L312.6 329.41 L312.8 324.74 L313 321.05 L313.2 318.54 L313.4 317.31 L313.6 317.39 L313.8 318.74 L314 321.24 L314.2 324.73 L314.4 328.96 L314.6 333.68 L314.8 338.59 L315 343.42 L315.2 347.89 L315.4 351.76 L315.6 354.83 L315.8 356.96 L316 358.05 L316.2 358.09 L316.4 357.11 L316.6 355.21 L316.8 352.53 L317 349.25 L317.2 345.59 L317.4 341.76 L317.6 338 L317.8 334.51 L318 331.48 L318.2 329.06 L318.4 327.36 L318.6 326.45 L318.8 326.34 L319 327 L319.2 328.36 L319.4 330.31 L319.6 332.71 L319.8 335.4 L320 338.22 L320.2 340.99 L320.4 343.57 L320.6 345.81 L320.8 347.61 L321 348.89 L321.2 349.6 L321.4 349.73 L321.6 349.31 L321.8 348.39 L322 347.06 L322.2 345.4 L322.4 343.53 L322.6 341.58 L322.8 339.65 L323 337.85 L323.2 336.28 L323.4 335.02 L323.6 334.11 L323.8 333.59 L324 333.46 L324.2 333.7 L324.4 334.29" fill="none" stroke="#b0b0b0" stroke-width="1.0" stroke-linejoin="round"/><rect x="400.4" y="14.2" width="317.4" height="212.7" fill="none" stroke="#a8a8a8" stroke-width="1.2"/><line x1="396.9" y1="212.5" x2="400.4" y2="212.5" stroke="#a8a8a8" stroke-width="1"/><line x1="714.3" y1="212.5" x2="717.8" y2="212.5" stroke="#a8a8a8" stroke-width="1"/><text x="393.2" y="214.8" font-size="7.8" font-family='"Liberation Sans", sans-serif' text-anchor="end" fill="#444">-90</text><line x1="398.2" y1="191.25" x2="400.4" y2="191.25" stroke="#a8a8a8" stroke-width="1"/><line x1="715.6" y1="191.25" x2="717.8" y2="191.25" stroke="#a8a8a8" stroke-width="1"/><line x1="396.9" y1="170" x2="400.4" y2="170" stroke="#a8a8a8" stroke-width="1"/><line x1="714.3" y1="170" x2="717.8" y2="170" stroke="#a8a8a8" stroke-width="1"/><text x="393.2" y="172.3" font-size="7.8" font-family='"Liberation Sans", sans-serif' text-anchor="end" fill="#444">-60</text><line x1="398.2" y1="148.75" x2="400.4" y2="148.75" stroke="#a8a8a8" stroke-width="1"/><line x1="715.6" y1="148.75" x2="717.8" y2="148.75" stroke="#a8a8a8" stroke-width="1"/><line x1="396.9" y1="127.5" x2="400.4" y2="127.5" stroke="#a8a8a8" stroke-width="1"/><line x1="714.3" y1="127.5" x2="717.8" y2="127.5" stroke="#a8a8a8" stroke-width="1"/><text x="393.2" y="129.8" font-size="7.8" font-family='"Liberation Sans", sans-serif' text-anchor="end" fill="#444">-30</text><line x1="398.2" y1="106.25" x2="400.4" y2="106.25" stroke="#a8a8a8" stroke-width="1"/><line x1="715.6" y1="106.25" x2="717.8" y2="106.25" stroke="#a8a8a8" stroke-width="1"/><line x1="396.9" y1="85" x2="400.4" y2="85" stroke="#a8a8a8" stroke-width="1"/><line x1="714.3" y1="85" x2="717.8" y2="85" stroke="#a8a8a8" stroke-width="1"/><text x="393.2" y="87.3" font-size="7.8" font-family='"Liberation Sans", sans-serif' text-anchor="end" fill="#444">0</text><line x1="398.2" y1="63.75" x2="400.4" y2="63.75" stroke="#a8a8a8" stroke-width="1"/><line x1="715.6" y1="63.75" x2="717.8" y2="63.75" stroke="#a8a8a8" stroke-width="1"/><line x1="396.9" y1="42.5" x2="400.4" y2="42.5" stroke="#a8a8a8" stroke-width="1"/><line x1="714.3" y1="42.5" x2="717.8" y2="42.5" stroke="#a8a8a8" stroke-width="1"/><text x="393.2" y="44.8" font-size="7.8" font-family='"Liberation Sans", sans-serif' text-anchor="end" fill="#444">30</text><line x1="398.2" y1="21.25" x2="400.4" y2="21.25" stroke="#a8a8a8" stroke-width="1"/><line x1="715.6" y1="21.25" x2="717.8" y2="21.25" stroke="#a8a8a8" stroke-width="1"/><line x1="400.4" y1="226.9" x2="400.4" y2="230.4" stroke="#a8a8a8" stroke-width="1"/><line x1="400.4" y1="14.2" x2="400.4" y2="17.7" stroke="#a8a8a8" stroke-width="1"/><text x="400.4" y="239.9" font-size="7.8" font-family='"Liberation Sans", sans-serif' text-anchor="middle" fill="#444">0</text><line x1="432.14" y1="226.9" x2="432.14" y2="229.1" stroke="#a8a8a8" stroke-width="1"/><line x1="432.14" y1="14.2" x2="432.14" y2="16.4" stroke="#a8a8a8" stroke-width="1"/><line x1="463.88" y1="226.9" x2="463.88" y2="230.4" stroke="#a8a8a8" stroke-width="1"/><line x1="463.88" y1="14.2" x2="463.88" y2="17.7" stroke="#a8a8a8" stroke-width="1"/><text x="463.88" y="239.9" font-size="7.8" font-family='"Liberation Sans", sans-serif' text-anchor="middle" fill="#444">100</text><line x1="495.62" y1="226.9" x2="495.62" y2="229.1" stroke="#a8a8a8" stroke-width="1"/><line x1="495.62" y1="14.2" x2="495.62" y2="16.4" stroke="#a8a8a8" stroke-width="1"/><line x1="527.36" y1="226.9" x2="527.36" y2="230.4" stroke="#a8a8a8" stroke-width="1"/><line x1="527.36" y1="14.2" x2="527.36" y2="17.7" stroke="#a8a8a8" stroke-width="1"/><text x="527.36" y="239.9" font-size="7.8" font-family='"Liberation Sans", sans-serif' text-anchor="middle" fill="#444">200</text><line x1="559.1" y1="226.9" x2="559.1" y2="229.1" stroke="#a8a8a8" stroke-width="1"/><line x1="559.1" y1="14.2" x2="559.1" y2="16.4" stroke="#a8a8a8" stroke-width="1"/><line x1="590.84" y1="226.9" x2="590.84" y2="230.4" stroke="#a8a8a8" stroke-width="1"/><line x1="590.84" y1="14.2" x2="590.84" y2="17.7" stroke="#a8a8a8" stroke-width="1"/><text x="590.84" y="239.9" font-size="7.8" font-family='"Liberation Sans", sans-serif' text-anchor="middle" fill="#444">300</text><line x1="622.58" y1="226.9" x2="622.58" y2="229.1" stroke="#a8a8a8" stroke-width="1"/><line x1="622.58" y1="14.2" x2="622.58" y2="16.4" stroke="#a8a8a8" stroke-width="1"/><line x1="654.32" y1="226.9" x2="654.32" y2="230.4" stroke="#a8a8a8" stroke-width="1"/><line x1="654.32" y1="14.2" x2="654.32" y2="17.7" stroke="#a8a8a8" stroke-width="1"/><text x="654.32" y="239.9" font-size="7.8" font-family='"Liberation Sans", sans-serif' text-anchor="middle" fill="#444">400</text><line x1="686.06" y1="226.9" x2="686.06" y2="229.1" stroke="#a8a8a8" stroke-width="1"/><line x1="686.06" y1="14.2" x2="686.06" y2="16.4" stroke="#a8a8a8" stroke-width="1"/><line x1="717.8" y1="226.9" x2="717.8" y2="230.4" stroke="#a8a8a8" stroke-width="1"/><line x1="717.8" y1="14.2" x2="717.8" y2="17.7" stroke="#a8a8a8" stroke-width="1"/><text x="717.8" y="239.9" font-size="7.8" font-family='"Liberation Sans", sans-serif' text-anchor="middle" fill="#444">500</text><text x="559.4" y="255.1" font-size="14" font-family='"Liberation Serif", serif' text-anchor="middle" fill="#333" textLength="88" lengthAdjust="spacingAndGlyphs">Frequency (Hz)</text><text x="375.2" y="130.8" font-size="14" font-family='"Liberation Serif", serif' text-anchor="middle" fill="#333" transform="rotate(-90 375.2 130.8)" textLength="65" lengthAdjust="spacingAndGlyphs">Power (dB)</text><text x="345.4" y="30" font-size="20" font-family='"Liberation Serif", serif' text-anchor="start" fill="#111">(c)</text><path d="M401 166.52V154.63M402.2 176V190.53M403.03 164.92V149.03M404.48 176V195.9M405.27 163.14V129.31M406.39 176V186.9M407.51 176V188.45M408.75 160.39V132.57M410.21 159.24V137.34M411.57 158.16V142.47M412.42 176V182.23M413.92 176V192.57M415.4 176V188.07M416.64 176V196.74M418.06 153.02V120.15M419.43 176V194.22M420.5 176V195.2M421.82 176V193.48M422.89 176V183.06M423.9 148.4V137.14" stroke="#444" stroke-width="0.7" fill="none"/><path d="M400.6 165.2 L400.72 172.16 L400.84 165.65 L400.96 179.56 L401.08 166.99 L401.2 180.14 L401.32 161.61 L401.44 181.21 L401.56 171.55 L401.68 176.37 L401.8 164.03 L401.92 182.45 L402.04 163.99 L402.16 177.49 L402.28 164.48 L402.4 178.18 L402.52 171.37 L402.64 174.13 L402.76 162.18 L402.88 184.36 L403 162.84 L403.12 179.09 L403.24 167.19 L403.36 173.53 L403.48 170.37 L403.6 181.26 L403.72 167.07 L403.84 181.28 L403.96 169.74 L404.08 181.23 L404.2 154.72 L404.32 180.99 L404.44 157.87 L404.56 181.3 L404.68 159.23 L404.8 180.9 L404.92 169.13 L405.04 180.32 L405.16 159.49 L405.28 174.77 L405.4 158.6 L405.52 181.03 L405.64 165.54 L405.76 181.04 L405.88 162.78 L406 177.77 L406.12 161.07 L406.24 178.96 L406.36 165.48 L406.48 174.2 L406.6 154.28 L406.72 179.49 L406.84 166.28 L406.96 179.76 L407.08 167.38 L407.2 176.66 L407.32 165.03 L407.44 184.86 L407.56 156.83 L407.68 178.17 L407.8 161.75 L407.92 174 L408.04 156.29 L408.16 180.24 L408.28 158.55 L408.4 181.39 L408.52 165.16 L408.64 176.97 L408.76 160.43 L408.88 181.68 L409 162.01 L409.12 181.61 L409.24 159.05 L409.36 179.95 L409.48 155.42 L409.6 175.8 L409.72 161.97 L409.84 175.05 L409.96 157.13 L410.08 173.63 L410.2 157.61 L410.32 174.01 L410.44 159.9 L410.56 177.13 L410.68 154.54 L410.8 172.12 L410.92 160.95 L411.04 175.25 L411.16 157.15 L411.28 180.6 L411.4 153.81 L411.52 177.71 L411.64 159.99 L411.76 176.26 L411.88 153.01 L412 175.45 L412.12 153.98 L412.24 175.54 L412.36 162.29 L412.48 177.94 L412.6 160.81 L412.72 172.69 L412.84 157.57 L412.96 179.55 L413.08 160.91 L413.2 174.49 L413.32 151.21 L413.44 178.46 L413.56 155.06 L413.68 176.52 L413.8 160.41 L413.92 176.98 L414.04 156.49 L414.16 175.53 L414.28 158.52 L414.4 181.52 L414.52 152.4 L414.64 174.7 L414.76 156.73 L414.88 172.55 L415 154.43 L415.12 181.13 L415.24 155.87 L415.36 177.04 L415.48 154.82 L415.6 172.86 L415.72 158.26 L415.84 178.45 L415.96 154.36 L416.08 174.14 L416.2 152.69 L416.32 171.09 L416.44 160.06 L416.56 173.7 L416.68 156.54 L416.8 173.74 L416.92 150.69 L417.04 169.56 L417.16 153.76 L417.28 176.61 L417.4 157.96 L417.52 177.97 L417.64 153.56 L417.76 179.93 L417.88 149.07 L418 177.45 L418.12 155.51 L418.24 174.72 L418.36 157 L418.48 169.76 L418.6 157.19 L418.72 174.58 L418.84 155.01 L418.96 174.6 L419.08 152.6 L419.2 175.88 L419.32 157.21 L419.44 170.94 L419.56 151.81 L419.68 177.2 L419.8 151.38 L419.92 177.99 L420.04 151.35 L420.16 171.6 L420.28 150.88 L420.4 177.93 L420.52 149.84 L420.64 170.13 L420.76 147.71 L420.88 171.53 L421 150.17 L421.12 177.46 L421.24 151.48 L421.36 179.6 L421.48 152.45 L421.6 176.43 L421.72 146.38 L421.84 178.02 L421.96 144.03 L422.08 175.88 L422.2 148.57 L422.32 177.99 L422.44 150.99 L422.56 175.18 L422.68 150.55 L422.8 177.73 L422.92 153.14 L423.04 177.23 L423.16 154.68 L423.28 169.95 L423.4 145.29 L423.52 173.46 L423.64 144.9 L423.76 176.68 L423.88 144.88 L424 175.35 L424.12 150.41 L424.24 173.82 L424.36 151.29 L424.48 174.79 L424.6 176 L425.2 120 L425.8 80 L426 66.81 L426.1 105.11 L426.2 66.67 L426.3 114.51 L426.4 67.33 L426.5 122 L426.6 66.49 L426.7 145.69 L426.8 66.31 L426.9 126.8 L427 58.99 L427.1 119.92 L427.2 67.46 L427.3 112.5 L427.4 66.81 L427.5 101.68 L427.6 42.84 L427.7 103.52 L427.8 61.15 L427.9 160.54 L428 59.9 L428.1 113.15 L428.2 60.57 L428.3 112.33 L428.4 58.42 L428.5 100.31 L428.6 61.79 L428.7 116.6 L428.8 57.51 L428.9 101.1 L429 43.13 L429.1 109.45 L429.2 57.13 L429.3 111.51 L429.4 58.39 L429.5 121.53 L429.6 46.51 L429.7 110.03 L429.8 61.74 L429.9 102.74 L430 58.66 L430.1 105.77 L430.2 59.9 L430.3 111.68 L430.4 57.24 L430.5 158.17 L430.6 58.08 L430.7 107.9 L430.8 58.57 L430.9 113.02 L431 58.23 L431.1 105.48 L431.2 57.42 L431.3 130.19 L431.4 59.87 L431.5 102.25 L431.6 45.88 L431.7 112.11 L431.8 60.13 L431.9 104.63 L432 58.28 L432.1 154.41 L432.2 58.88 L432.3 104.69 L432.4 60.71 L432.5 108.12 L432.6 57.05 L432.7 112.07 L432.8 57.4 L432.9 157.38 L433 47.23 L433.1 110.67 L433.2 60.51 L433.3 101.67 L433.4 50.35 L433.5 115.95 L433.6 60.59 L433.7 107.87 L433.8 45.49 L433.9 112.52 L434 57.3 L434.1 109.64 L434.2 60.48 L434.3 108.79 L434.4 57.53 L434.5 107.96 L434.6 60.18 L434.7 143.37 L434.8 58.01 L434.9 118.4 L435 61.12 L435.1 119.38 L435.2 61.89 L435.3 111.97 L435.4 57.17 L435.5 142.61 L435.6 53.02 L435.7 116.22 L435.8 61.58 L435.9 103.17 L436 62.75 L436.1 104.85 L436.2 63.39 L436.3 108.68 L436.4 61.16 L436.5 110.86 L436.6 62.4 L436.7 120.13 L436.8 61.87 L436.9 118.78 L437 61.83 L437.1 121.07 L437.2 63.38 L437.3 117.65 L437.4 64 L437.8 110 L438.4 145 L438.8 137.09 L438.95 159.05 L439.1 152.18 L439.25 156.14 L439.4 142.84 L439.55 154.96 L439.7 150.16 L439.85 155.35 L440 152.08 L440.15 165.56 L440.3 154.89 L440.45 160.26 L440.6 155.6 L440.75 158.59 L440.9 153.63 L441.05 160.61 L441.2 155.84 L441.35 162.89 L441.5 157.28 L441.65 163.8 L441.8 142.16 L441.95 163.66 L442.1 157.97 L442.25 161.92 L442.4 158.19 L442.55 161.39 L442.7 159.88 L442.85 164.56 L443 161.05 L443.15 163.12 L443.3 158.47 L443.45 164.56 L443.6 161.14 L443.75 162.87 L443.9 162.41 L444.05 165.66 L444.2 162.35 L444.35 175.57 L444.5 161.23 L444.65 165.05 L444.8 162.08 L444.95 164.65 L445.1 163.06 L445.25 164.17 L445.4 161.9 L445.55 166.37 L445.7 152.78 L445.85 165.4 L446 162.98 L446.15 164.51 L446.3 163.15 L446.45 165.78 L446.6 161.78 L446.75 167.02 L446.9 162.97 L447.05 164.95 L447.2 164.01 L447.35 167.05 L447.5 164.64 L447.65 166.85 L447.8 164.33 L447.95 165.65 L448.1 163.28 L448.25 167.82 L448.4 165.48 L448.55 167.57 L448.7 165.54 L448.85 167.21 L449 165.23 L449.15 167.25 L449.3 165.95 L449.45 167.68 L449.6 165.51 L449.75 167.61 L449.9 166.77 L450.05 168.82 L450.2 166.76 L450.35 169.45 L450.5 166.55 L450.65 169.21 L450.8 167.27 L450.95 169.61 L451.1 167.98 L451.25 168.54 L451.4 168.22 L451.55 169.74 L451.7 167.38 L451.85 169.08 L452 168.18 L452.15 170.43 L452.3 168.12 L452.45 169.39 L452.6 168.99 L452.75 169.74 L452.9 169.41 L453.05 170.37 L453.2 169.73 L453.35 171.39 L453.5 169.44 L453.65 170.98 L453.8 169.37 L453.95 171.58 L454.1 169.39 L454.25 171.25 L454.4 170.35 L454.55 171.51 L454.7 171.04 L454.85 171.72 L455 170.36 L455.15 172.68 L455.3 170.43 L455.45 172.4 L455.6 170.85 L455.75 171.74 L455.9 171.38 L456.05 172.3 L456.2 171.17 L456.35 172.17 L456.5 171.68 L456.65 172.81 L456.8 171.38 L456.95 173.32 L457.1 171.76 L457.25 172.72 L457.4 171.77 L457.55 173.7 L457.7 172.2 L457.85 173.25 L458 172.43 L458.15 173.19 L458.3 172.38 L458.45 174.22 L458.6 172.76 L458.75 174.09 L458.9 172.62 L459.05 173.73 L459.2 172.7 L459.35 174.3 L459.5 173.6 L459.65 173.95 L459.8 173.72 L459.95 174.56 L460.1 173.48 L460.25 174.5 L460.4 173.45 L460.55 174.68 L460.7 174.04 L460.85 174.64 L461 173.78 L461.15 174.81 L461.3 174.02 L461.45 175.31 L461.6 174.48 L461.75 175.48 L461.9 174.89 L462.05 175.92 L462.2 174.49 L462.35 176 L462.5 174.97 L462.65 175.62 L462.8 174.97 L462.95 175.91 L463.1 175.1 L463.25 176.03 L463.4 175.51 L463.55 176.63 L463.7 175.97 L463.85 176.58 L464 176.21 L464.15 176.37 L464.3 176.31 L464.45 177.2 L464.6 175.95 L464.75 177.13 L464.9 176.56 L465.05 177.3 L465.2 176.44 L465.35 177.27 L465.5 176.71 L465.65 177.7 L465.8 177.25 L465.95 177.47 L466.1 177.13 L466.25 177.6 L466.4 177.35 L466.55 178.03 L466.7 177.65 L466.85 178.16 L467 177.76 L467.15 178.35 L467.3 177.89 L467.45 178.56 L467.6 178.21 L467.75 178.67 L467.9 178.24 L468.05 178.93 L468.2 178.07 L468.35 178.73 L468.5 178.27 L468.65 178.9 L468.8 178.21 L468.95 179.07 L469.1 178.27 L469.25 179 L469.4 178.23 L469.55 179.28 L469.7 178.4 L469.85 179.14 L470 178.73 L470.15 179.31" fill="none" stroke="#000" stroke-width="0.55" stroke-linejoin="round"/><path d="M470.15 179.31 L470.3 178.57 L470.45 179.37 L470.6 178.87 L470.75 179.41 L470.9 178.76 L471.05 179.44 L471.2 179.3 L471.35 179.74 L471.5 178.96 L471.65 179.83 L471.8 179.21 L471.95 179.93 L472.1 179.45 L472.25 179.94 L472.4 179.66 L472.55 179.8 L472.7 179.56 L472.85 180.07 L473 179.68 L473.15 179.94 L473.3 179.63 L473.45 180.26 L473.6 179.94 L473.75 180.25 L473.9 179.96 L474.05 180.3 L474.2 180.2 L474.35 180.71 L474.5 179.88 L474.65 180.68 L474.8 180.02 L474.95 180.66 L475.1 180.14 L475.25 180.66 L475.4 180.26 L475.55 180.9 L475.7 180.29 L475.85 180.78 L476 180.43 L476.15 180.88 L476.3 180.64 L476.45 181.34 L476.6 180.97 L476.75 181.12 L476.9 180.93 L477.05 181.24 L477.2 181.12 L477.35 181.58 L477.5 180.89 L477.65 181.46 L477.8 181.18 L477.95 181.63 L478.1 181.4 L478.25 181.48 L478.4 181.13 L478.55 181.69 L478.7 181.39 L478.85 182.04 L479 181.29 L479.15 181.94 L479.3 181.7 L479.45 181.96 L479.6 181.5 L479.75 182.29 L479.9 181.89 L480.05 182.36 L480.65 182 L481.25 182.48 L481.85 182.35 L482.45 182.91 L483.05 182.31 L483.65 182.91 L484.25 182.73 L484.85 183.18 L485.45 182.91 L486.05 183.4 L486.65 183.48 L487.25 183.93 L487.85 183.68 L488.45 184.27 L489.05 183.75 L489.65 184.47 L490.25 184.29 L490.85 184.74 L491.45 184.27 L492.05 184.92 L492.65 184.86 L493.25 185.11 L493.85 185.06 L494.45 185.56 L495.05 185.37 L495.65 185.64 L496.25 185.63 L496.85 186.09 L497.45 185.71 L498.05 186.26 L498.65 186.03 L499.25 186.68 L499.85 186.25 L500.45 186.63 L501.05 186.54 L501.65 187.06 L502.25 186.59 L502.85 187.01 L503.45 186.78 L504.05 187.13 L504.65 186.84 L505.25 187.44 L505.85 187.19 L506.45 187.65 L507.05 187.54 L507.65 187.86 L508.25 187.64 L508.85 187.92 L509.45 187.63 L510.05 188.04 L510.65 188 L511.25 188.45 L511.85 188.19 L512.45 188.47 L513.05 188.26 L513.65 188.61 L514.25 188.32 L514.85 189.07 L515.45 188.81 L516.05 189.07 L516.65 188.73 L517.25 189.22 L517.85 188.85 L518.45 189.44 L519.05 189.29 L519.65 189.64 L520.25 189.31 L520.85 189.75 L521.45 189.49 L522.05 190.08 L522.65 189.72 L523.25 190.16 L523.85 189.78 L524.45 190.41 L525.05 190.08 L525.65 190.68 L526.25 190.38 L526.85 190.8 L527.45 190.56 L528.05 190.92 L528.65 190.72 L529.25 191.04 L529.85 190.71 L530.45 191.34 L531.05 190.88 L531.65 191.33 L532.25 191.15 L532.85 191.46 L533.45 191.24 L534.05 191.68 L534.65 191.55 L535.25 191.83 L535.85 191.43 L536.45 191.95 L537.05 191.5 L537.65 191.93 L538.25 191.87 L538.85 191.99 L539.45 191.87 L540.05 192.26 L540.65 192.01 L541.25 192.32 L541.85 192.01 L542.45 192.37 L543.05 192.09 L543.65 192.66 L544.25 192.33 L544.85 192.86 L545.45 192.56 L546.05 192.76 L546.65 192.66 L547.25 192.84 L547.85 192.77 L548.45 193.16 L549.05 192.82 L549.65 193.16 L550.25 192.92 L550.85 193.22 L551.45 192.96 L552.05 193.37 L552.65 193.28 L553.25 193.48 L553.85 193.24 L554.45 193.84 L555.05 193.33 L555.65 193.69 L556.25 193.58 L556.85 193.91 L557.45 193.77 L558.05 194.24 L558.65 193.95 L559.25 194.2 L559.85 193.82 L560.45 194.49 L561.05 194.15 L561.65 194.42 L562.25 194.06 L562.85 194.4 L563.45 194.36 L564.05 194.82 L564.65 194.52 L565.25 194.76 L565.85 194.58 L566.45 194.89 L567.05 194.78 L567.65 194.88 L568.25 194.56 L568.85 195.21 L569.45 194.72 L570.05 195.09 L570.65 194.95 L571.25 195.26 L571.85 195.02 L572.45 195.3 L573.05 194.84 L573.65 195.33 L574.25 195.11 L574.85 195.6 L575.45 195.08 L576.05 195.34 L576.65 195.22 L577.25 195.62 L577.85 195.4 L578.45 195.57 L579.05 195.24 L579.65 195.82 L580.25 195.34 L580.85 195.89 L581.45 195.45 L582.05 195.78 L582.65 195.38 L583.25 195.84 L583.85 195.46 L584.45 195.84 L585.05 195.68 L585.65 195.9 L586.25 195.67 L586.85 195.95 L587.45 195.86 L588.05 196.03 L588.65 195.83 L589.25 196.13 L589.85 195.9 L590.45 196.43 L591.05 195.88 L591.65 196.45 L592.25 196.11 L592.85 196.35 L593.45 196.22 L594.05 196.52 L594.65 196.18 L595.25 196.43 L595.85 196.36 L596.45 196.47 L597.05 196.34 L597.65 196.6 L598.25 196.17 L598.85 196.78 L599.45 196.47 L600.05 196.72 L600.65 196.57 L601.25 196.98 L601.85 196.56 L602.45 196.99 L603.05 196.5 L603.65 197.1 L604.25 196.8 L604.85 196.93 L605.45 196.7 L606.05 196.88 L606.65 196.56 L607.25 197 L607.85 196.63 L608.45 197.09 L609.05 196.91 L609.65 197.08 L610.25 196.87 L610.85 196.99 L611.45 196.93 L612.05 197.21 L612.65 197.01 L613.25 197.14 L613.85 196.9 L614.45 197.25 L615.05 197.03 L615.65 197.34 L616.25 197.02 L616.85 197.38 L617.45 196.9 L618.05 197.2 L618.65 197.09 L619.25 197.28 L619.85 196.95 L620.45 197.35 L621.05 197.09 L621.65 197.54 L622.25 197.18 L622.85 197.37 L623.45 197.17 L624.05 197.38 L624.65 197.3 L625.25 197.34 L625.85 197.13 L626.45 197.56 L627.05 197.09 L627.65 197.73 L628.25 197.3 L628.85 197.66 L629.45 197.11 L630.05 197.53 L630.65 197.23 L631.25 197.71 L631.85 197.16 L632.45 197.82 L633.05 197.44 L633.65 197.76 L634.25 197.52 L634.85 197.72 L635.45 197.45 L636.05 197.62 L636.65 197.48 L637.25 197.75 L637.85 197.47 L638.45 197.76 L639.05 197.62 L639.65 197.83 L640.25 197.54 L640.85 197.78 L641.45 197.5 L642.05 197.84 L642.65 197.73 L643.25 197.9 L643.85 197.65 L644.45 197.86 L645.05 197.62 L645.65 198.09 L646.25 197.66 L646.85 198.12 L647.45 197.88 L648.05 198.04 L648.65 197.79 L649.25 197.95 L649.85 197.8 L650.45 197.98 L651.05 197.8 L651.65 198.2 L652.25 197.84 L652.85 198.12 L653.45 197.93 L654.05 198.03 L654.65 197.91 L655.25 198.35 L655.85 197.84 L656.45 198.14 L657.05 197.82 L657.65 198.12 L658.25 197.9 L658.85 198.29 L659.45 197.74 L660.05 198.21 L660.65 197.89 L661.25 198.43 L661.85 197.83 L662.45 198.33 L663.05 197.9 L663.65 198.27 L664.25 197.98 L664.85 198.23 L665.45 197.85 L666.05 198.45 L666.65 198.02 L667.25 198.48 L667.85 198.15 L668.45 198.22 L669.05 198 L669.65 198.29 L670.25 198.06 L670.85 198.54 L671.45 198.15 L672.05 198.28 L672.65 198.14 L673.25 198.46 L673.85 198.15 L674.45 198.23 L675.05 198.05 L675.65 198.38 L676.25 198.17 L676.85 198.43 L677.45 198.04 L678.05 198.46 L678.65 198.06 L679.25 198.48 L679.85 198 L680.45 198.64 L681.05 198.19 L681.65 198.43 L682.25 198 L682.85 198.43 L683.45 198.08 L684.05 198.58 L684.65 198.1 L685.25 198.68 L685.85 198.06 L686.45 198.41 L687.05 198.15 L687.65 198.54 L688.25 198.18 L688.85 198.51 L689.45 198.29 L690.05 198.66 L690.65 198.22 L691.25 198.49 L691.85 198.33 L692.45 198.54 L693.05 198.37 L693.65 198.61 L694.25 198.4 L694.85 198.47 L695.45 198.43 L696.05 198.49 L696.65 198.22 L697.25 198.51 L697.85 198.32 L698.45 198.75 L699.05 198.32 L699.65 198.55 L700.25 198.2 L700.85 198.81 L701.45 198.49 L702.05 198.6 L702.65 198.34 L703.25 198.8 L703.85 198.38 L704.45 198.78 L705.05 198.44 L705.65 198.78 L706.25 198.42 L706.85 198.66 L707.45 198.28 L708.05 198.84 L708.65 198.26 L709.25 198.75 L709.85 198.41 L710.45 198.81 L711.05 198.34 L711.65 198.86 L712.25 198.29 L712.85 198.62 L713.45 198.44 L714.05 198.81 L714.65 198.5 L715.25 198.65 L715.85 198.58 L716.45 198.8 L717.05 198.27 L717.8 198.6 L717.6 208" fill="none" stroke="#111" stroke-width="0.95" stroke-linejoin="round"/><path d="M424.9 176 L425.3 140 L425.8 100 L426.3 75" fill="none" stroke="#000" stroke-width="1.2" stroke-linejoin="round"/><path d="M437.2 62 L437.6 100 L438.1 140 L439.2 155 L441.5 160" fill="none" stroke="#000" stroke-width="1.3" stroke-linejoin="round"/><rect x="400.5" y="301.3" width="324.5" height="218.1" fill="none" stroke="#a8a8a8" stroke-width="1.2"/><line x1="397" y1="497.59" x2="400.5" y2="497.59" stroke="#a8a8a8" stroke-width="1"/><line x1="721.5" y1="497.59" x2="725" y2="497.59" stroke="#a8a8a8" stroke-width="1"/><text x="393.2" y="499.89" font-size="7.8" font-family='"Liberation Sans", sans-serif' text-anchor="end" fill="#444">-40</text><line x1="398.3" y1="475.78" x2="400.5" y2="475.78" stroke="#a8a8a8" stroke-width="1"/><line x1="722.8" y1="475.78" x2="725" y2="475.78" stroke="#a8a8a8" stroke-width="1"/><line x1="397" y1="453.97" x2="400.5" y2="453.97" stroke="#a8a8a8" stroke-width="1"/><line x1="721.5" y1="453.97" x2="725" y2="453.97" stroke="#a8a8a8" stroke-width="1"/><text x="393.2" y="456.27" font-size="7.8" font-family='"Liberation Sans", sans-serif' text-anchor="end" fill="#444">-20</text><line x1="398.3" y1="432.16" x2="400.5" y2="432.16" stroke="#a8a8a8" stroke-width="1"/><line x1="722.8" y1="432.16" x2="725" y2="432.16" stroke="#a8a8a8" stroke-width="1"/><line x1="397" y1="410.35" x2="400.5" y2="410.35" stroke="#a8a8a8" stroke-width="1"/><line x1="721.5" y1="410.35" x2="725" y2="410.35" stroke="#a8a8a8" stroke-width="1"/><text x="393.2" y="412.65" font-size="7.8" font-family='"Liberation Sans", sans-serif' text-anchor="end" fill="#444">0</text><line x1="398.3" y1="388.54" x2="400.5" y2="388.54" stroke="#a8a8a8" stroke-width="1"/><line x1="722.8" y1="388.54" x2="725" y2="388.54" stroke="#a8a8a8" stroke-width="1"/><line x1="397" y1="366.73" x2="400.5" y2="366.73" stroke="#a8a8a8" stroke-width="1"/><line x1="721.5" y1="366.73" x2="725" y2="366.73" stroke="#a8a8a8" stroke-width="1"/><text x="393.2" y="369.03" font-size="7.8" font-family='"Liberation Sans", sans-serif' text-anchor="end" fill="#444">20</text><line x1="398.3" y1="344.92" x2="400.5" y2="344.92" stroke="#a8a8a8" stroke-width="1"/><line x1="722.8" y1="344.92" x2="725" y2="344.92" stroke="#a8a8a8" stroke-width="1"/><line x1="397" y1="323.11" x2="400.5" y2="323.11" stroke="#a8a8a8" stroke-width="1"/><line x1="721.5" y1="323.11" x2="725" y2="323.11" stroke="#a8a8a8" stroke-width="1"/><text x="393.2" y="325.41" font-size="7.8" font-family='"Liberation Sans", sans-serif' text-anchor="end" fill="#444">40</text><line x1="400.5" y1="519.4" x2="400.5" y2="522.9" stroke="#a8a8a8" stroke-width="1"/><line x1="400.5" y1="301.3" x2="400.5" y2="304.8" stroke="#a8a8a8" stroke-width="1"/><text x="400.5" y="532.1" font-size="7.8" font-family='"Liberation Sans", sans-serif' text-anchor="middle" fill="#444">0</text><line x1="432.95" y1="519.4" x2="432.95" y2="521.6" stroke="#a8a8a8" stroke-width="1"/><line x1="432.95" y1="301.3" x2="432.95" y2="303.5" stroke="#a8a8a8" stroke-width="1"/><line x1="465.4" y1="519.4" x2="465.4" y2="522.9" stroke="#a8a8a8" stroke-width="1"/><line x1="465.4" y1="301.3" x2="465.4" y2="304.8" stroke="#a8a8a8" stroke-width="1"/><text x="465.4" y="532.1" font-size="7.8" font-family='"Liberation Sans", sans-serif' text-anchor="middle" fill="#444">100</text><line x1="497.85" y1="519.4" x2="497.85" y2="521.6" stroke="#a8a8a8" stroke-width="1"/><line x1="497.85" y1="301.3" x2="497.85" y2="303.5" stroke="#a8a8a8" stroke-width="1"/><line x1="530.3" y1="519.4" x2="530.3" y2="522.9" stroke="#a8a8a8" stroke-width="1"/><line x1="530.3" y1="301.3" x2="530.3" y2="304.8" stroke="#a8a8a8" stroke-width="1"/><text x="530.3" y="532.1" font-size="7.8" font-family='"Liberation Sans", sans-serif' text-anchor="middle" fill="#444">200</text><line x1="562.75" y1="519.4" x2="562.75" y2="521.6" stroke="#a8a8a8" stroke-width="1"/><line x1="562.75" y1="301.3" x2="562.75" y2="303.5" stroke="#a8a8a8" stroke-width="1"/><line x1="595.2" y1="519.4" x2="595.2" y2="522.9" stroke="#a8a8a8" stroke-width="1"/><line x1="595.2" y1="301.3" x2="595.2" y2="304.8" stroke="#a8a8a8" stroke-width="1"/><text x="595.2" y="532.1" font-size="7.8" font-family='"Liberation Sans", sans-serif' text-anchor="middle" fill="#444">300</text><line x1="627.65" y1="519.4" x2="627.65" y2="521.6" stroke="#a8a8a8" stroke-width="1"/><line x1="627.65" y1="301.3" x2="627.65" y2="303.5" stroke="#a8a8a8" stroke-width="1"/><line x1="660.1" y1="519.4" x2="660.1" y2="522.9" stroke="#a8a8a8" stroke-width="1"/><line x1="660.1" y1="301.3" x2="660.1" y2="304.8" stroke="#a8a8a8" stroke-width="1"/><text x="660.1" y="532.1" font-size="7.8" font-family='"Liberation Sans", sans-serif' text-anchor="middle" fill="#444">400</text><line x1="692.55" y1="519.4" x2="692.55" y2="521.6" stroke="#a8a8a8" stroke-width="1"/><line x1="692.55" y1="301.3" x2="692.55" y2="303.5" stroke="#a8a8a8" stroke-width="1"/><line x1="725" y1="519.4" x2="725" y2="522.9" stroke="#a8a8a8" stroke-width="1"/><line x1="725" y1="301.3" x2="725" y2="304.8" stroke="#a8a8a8" stroke-width="1"/><text x="725" y="532.1" font-size="7.8" font-family='"Liberation Sans", sans-serif' text-anchor="middle" fill="#444">500</text><text x="562.4" y="550.8" font-size="14" font-family='"Liberation Serif", serif' text-anchor="middle" fill="#333" textLength="90" lengthAdjust="spacingAndGlyphs">Frequency (Hz)</text><text x="375.6" y="408.3" font-size="14.5" font-family='"Liberation Serif", serif' text-anchor="middle" fill="#333" transform="rotate(-90 375.6 408.3)" textLength="69" lengthAdjust="spacingAndGlyphs">Power (dB)</text><text x="348.1" y="316" font-size="20" font-family='"Liberation Serif", serif' text-anchor="start" fill="#111">(d)</text><path d="M400.5 458.3 L405 457 L410.9 454 L415 449 L419.5 440 L421.5 433 L423.7 423 L425.5 412 L427 397 L427.8 380 L428.2 360 L428.6 340 L429.3 325.7 L429.4 331.87 L429.52 354.32 L429.64 332.83 L429.76 355.13 L429.88 330.09 L430 352.67 L430.12 331.95 L430.24 372.3 L430.36 330.74 L430.48 355.28 L430.6 330.04 L430.72 352.18 L430.84 332.75 L430.96 381.36 L431.08 330.42 L431.2 366.29 L431.32 332.61 L431.44 354.6 L431.56 332.95 L431.68 363.39 L431.8 332.88 L431.92 360.22 L432.04 330.61 L432.16 365.88 L432.28 332.9 L432.4 366.14 L432.52 331.08 L432.64 372.55 L432.76 330.9 L432.88 385.64 L433 331.01 L433.12 361.64 L433.24 331.44 L433.36 362.54 L433.48 332.11 L433.6 360.27 L433.72 330.07 L433.84 369.41 L433.96 330.05 L434.08 370.7 L434.2 331.74 L434.32 380.7 L434.44 332.87 L434.56 365.27 L434.68 328.5 L434.8 375.05 L434.92 328.5 L435.04 370.88 L435.16 328.5 L435.28 374.4 L435.4 332.58 L435.52 366.69 L435.64 330.27 L435.76 371.17 L435.88 332.75 L436 372 L436.12 331.64 L436.24 372.5 L436.36 330.53 L436.48 398.37 L436.6 332 L436.7 404.97 L436.8 332 L436.9 396.62 L437 332 L437.1 395.49 L437.2 332 L437.3 404.87 L437.4 332 L437.5 400.34 L437.6 332 L437.7 399.06 L437.9 380 L438.6 400 L439.8 423 L442 445 L444.1 461.5 L446.1 475.8 L448 477 L450.3 476.6 L455 475 L460 474.4 L470 476.5 L490.5 481.4 L520 486 L546 489.7 L575 492 L601.5 493.9 L630 495.5 L657 496.6 L690 497.2 L723.6 497.5 L724.3 509" fill="none" stroke="#000" stroke-width="1.05" stroke-linejoin="round"/><path d="M427.2 397 L427.9 375 L428.4 350 L428.8 335" fill="none" stroke="#000" stroke-width="1.2" stroke-linejoin="round"/><path d="M436.9 332 L437.2 370 L437.8 395 L438.8 410 L439.8 423" fill="none" stroke="#000" stroke-width="1.4" stroke-linejoin="round"/><line x1="401.5" y1="452" x2="401.5" y2="462" stroke="#222" stroke-width="0.75"/><line x1="402.5" y1="447" x2="402.5" y2="468" stroke="#222" stroke-width="0.75"/><line x1="404.5" y1="449" x2="404.5" y2="466" stroke="#222" stroke-width="0.75"/><line x1="405.6" y1="452" x2="405.6" y2="463" stroke="#222" stroke-width="0.75"/><line x1="407" y1="450" x2="407" y2="479" stroke="#222" stroke-width="0.75"/><line x1="802" y1="204.55" x2="1071" y2="204.55" stroke="#e0e0e0" stroke-width="0.9" stroke-dasharray="1.5 1"/><line x1="802" y1="149.65" x2="1071" y2="149.65" stroke="#e0e0e0" stroke-width="0.9" stroke-dasharray="1.5 1"/><line x1="802" y1="94.75" x2="1071" y2="94.75" stroke="#e0e0e0" stroke-width="0.9" stroke-dasharray="1.5 1"/><line x1="802" y1="39.85" x2="1071" y2="39.85" stroke="#e0e0e0" stroke-width="0.9" stroke-dasharray="1.5 1"/><line x1="802" y1="177.1" x2="1071" y2="177.1" stroke="#c4c4c4" stroke-width="1"/><line x1="802" y1="122.2" x2="1071" y2="122.2" stroke="#c4c4c4" stroke-width="1"/><line x1="802" y1="67.3" x2="1071" y2="67.3" stroke="#c4c4c4" stroke-width="1"/><rect x="854.9" y="61.8" width="27.1" height="170.2" fill="#404040" stroke="#5a2a2a" stroke-width="0.5"/><line x1="868.5" y1="56.3" x2="868.5" y2="67" stroke="#a03040" stroke-width="0.9"/><line x1="866.2" y1="56.3" x2="870.8" y2="56.3" stroke="#a03040" stroke-width="0.9"/><path d="M990.05 232V139.25H1017.25V232" fill="#fff" stroke="#cc0008" stroke-width="2.5" stroke-linejoin="round"/><line x1="1003.4" y1="136.3" x2="1003.4" y2="142.8" stroke="#555" stroke-width="0.9"/><line x1="1001.4" y1="136.3" x2="1005.4" y2="136.3" stroke="#555" stroke-width="0.9"/><line x1="1001.4" y1="142.8" x2="1005.4" y2="142.8" stroke="#555" stroke-width="0.9"/><line x1="801" y1="12.9" x2="801" y2="232.8" stroke="#555" stroke-width="1.5"/><line x1="800.3" y1="232" x2="1071" y2="232" stroke="#555" stroke-width="1.5"/><text x="796.6" y="236.2" font-size="12" font-family='"Liberation Serif", serif' text-anchor="end" fill="#222">0</text><text x="796.6" y="181.3" font-size="12" font-family='"Liberation Serif", serif' text-anchor="end" fill="#222">5</text><text x="796.6" y="126.4" font-size="12" font-family='"Liberation Serif", serif' text-anchor="end" fill="#222">10</text><text x="796.6" y="71.5" font-size="12" font-family='"Liberation Serif", serif' text-anchor="end" fill="#222">15</text><text x="796.6" y="16.6" font-size="12" font-family='"Liberation Serif", serif' text-anchor="end" fill="#222">20</text><text x="868.3" y="247.2" font-size="12" font-family='"Liberation Serif", serif' text-anchor="middle" fill="#222">Bare&#160; electrode</text><text x="1003.1" y="247.2" font-size="12" font-family='"Liberation Serif", serif' text-anchor="middle" fill="#222">SLIPS coated electrode</text><text x="778.3" y="115.3" font-size="11" font-family='"Liberation Serif", serif' text-anchor="middle" fill="#222" transform="rotate(-90 778.3 115.3)" textLength="101.5" lengthAdjust="spacingAndGlyphs">Noise Level (µVrms)</text><text x="738.4" y="23.8" font-size="20.5" font-family='"Liberation Serif", serif' text-anchor="start" fill="#111">(e)</text><line x1="804.2" y1="496.1" x2="1068.2" y2="496.1" stroke="#e0e0e0" stroke-width="0.9" stroke-dasharray="1.5 1"/><line x1="804.2" y1="452.9" x2="1068.2" y2="452.9" stroke="#e0e0e0" stroke-width="0.9" stroke-dasharray="1.5 1"/><line x1="804.2" y1="409.7" x2="1068.2" y2="409.7" stroke="#e0e0e0" stroke-width="0.9" stroke-dasharray="1.5 1"/><line x1="804.2" y1="366.5" x2="1068.2" y2="366.5" stroke="#e0e0e0" stroke-width="0.9" stroke-dasharray="1.5 1"/><line x1="804.2" y1="323.3" x2="1068.2" y2="323.3" stroke="#e0e0e0" stroke-width="0.9" stroke-dasharray="1.5 1"/><line x1="804.2" y1="474.5" x2="1068.2" y2="474.5" stroke="#c4c4c4" stroke-width="1"/><line x1="804.2" y1="431.3" x2="1068.2" y2="431.3" stroke="#c4c4c4" stroke-width="1"/><line x1="804.2" y1="388.1" x2="1068.2" y2="388.1" stroke="#c4c4c4" stroke-width="1"/><line x1="804.2" y1="344.9" x2="1068.2" y2="344.9" stroke="#c4c4c4" stroke-width="1"/><path d="M856.7 517.7V383.7H882.5V517.7" fill="#000" stroke="#e00010" stroke-width="3" stroke-linejoin="round"/><line x1="869.7" y1="380.6" x2="869.7" y2="384" stroke="#555" stroke-width="0.9"/><line x1="867.7" y1="380.6" x2="871.7" y2="380.6" stroke="#555" stroke-width="0.9"/><path d="M988.85 517.7V330.55H1014.75V517.7" fill="#fff" stroke="#dd0000" stroke-width="2.7" stroke-linejoin="round"/><line x1="1001.8" y1="329" x2="1001.8" y2="333" stroke="#555" stroke-width="0.9"/><line x1="1000" y1="329" x2="1003.6" y2="329" stroke="#555" stroke-width="0.9"/><line x1="803.2" y1="302.6" x2="803.2" y2="518.4" stroke="#555" stroke-width="1.5"/><line x1="802.5" y1="517.7" x2="1068.2" y2="517.7" stroke="#555" stroke-width="1.5"/><text x="798.7" y="521.9" font-size="12" font-family='"Liberation Serif", serif' text-anchor="end" fill="#222">0</text><text x="798.7" y="478.7" font-size="12" font-family='"Liberation Serif", serif' text-anchor="end" fill="#222">5</text><text x="798.7" y="435.5" font-size="12" font-family='"Liberation Serif", serif' text-anchor="end" fill="#222">10</text><text x="798.7" y="392.3" font-size="12" font-family='"Liberation Serif", serif' text-anchor="end" fill="#222">15</text><text x="798.7" y="349.1" font-size="12" font-family='"Liberation Serif", serif' text-anchor="end" fill="#222">20</text><text x="798.7" y="305.9" font-size="12" font-family='"Liberation Serif", serif' text-anchor="end" fill="#222">25</text><text x="868.7" y="533.3" font-size="12" font-family='"Liberation Serif", serif' text-anchor="middle" fill="#222">Bare&#160; electrode</text><text x="1001.3" y="533.3" font-size="12" font-family='"Liberation Serif", serif' text-anchor="middle" fill="#222">SLIPS coated&#160; electrode</text><text x="779.9" y="398.3" font-size="9.8" font-family='"Liberation Serif", serif' text-anchor="middle" fill="#222" transform="rotate(-90 779.9 398.3)" textLength="45.5" lengthAdjust="spacingAndGlyphs">SNR (dB)</text><text x="751.2" y="329" font-size="20.5" font-family='"Liberation Serif", serif' text-anchor="start" fill="#111">(f)</text><text x="7.3" y="29.8" font-size="20.5" font-family='"Liberation Serif", serif' text-anchor="start" fill="#111">(a)</text><text x="7.2" y="322.3" font-size="20.5" font-family='"Liberation Serif", serif' text-anchor="start" fill="#111">(b)</text></svg>
</body></html>
